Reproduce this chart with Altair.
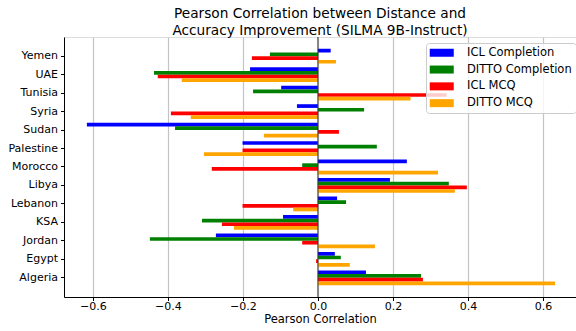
import altair as alt
import pandas as pd

countries = ["Yemen", "UAE", "Tunisia", "Syria", "Sudan", "Palestine", "Morocco",
             "Libya", "Lebanon", "KSA", "Jordan", "Egypt", "Algeria"]
series = ["ICL Completion", "DITTO Completion", "ICL MCQ", "DITTO MCQ"]
colors = ["#0000ff", "#008000", "#ff0000", "#ffa500"]

icl_completion = [0.034, -0.181, -0.098, -0.056, -0.616, -0.201, 0.237, 0.192, 0.051, -0.093, -0.272, 0.045, 0.128]
ditto_completion = [-0.128, -0.437, -0.173, 0.123, -0.381, 0.157, -0.042, 0.349, 0.075, -0.309, -0.448, 0.061, 0.275]
icl_mcq = [-0.176, -0.427, 0.343, -0.392, 0.056, -0.201, -0.283, 0.397, -0.201, -0.256, -0.042, -0.005, 0.280]
ditto_mcq = [0.048, -0.363, 0.247, -0.339, -0.144, -0.304, 0.320, 0.365, -0.066, -0.224, 0.152, 0.085, 0.632]

x_ticks = [-0.6, -0.4, -0.2, 0.0, 0.2, 0.4, 0.6]

rows = []
for s, vals in zip(series, [icl_completion, ditto_completion, icl_mcq, ditto_mcq]):
    for c, v in zip(countries, vals):
        rows.append({"Country": c, "Series": s, "Value": v})
df = pd.DataFrame(rows)

FONT = "DejaVu Sans"

x_scale = alt.Scale(domain=[-0.677, 0.688], nice=False, zero=False)

bars = alt.Chart(df).mark_bar(size=3.7).encode(
    x=alt.X("Value:Q", scale=x_scale,
            axis=alt.Axis(values=x_ticks, format=".1f", title="Pearson Correlation",
                          grid=True, gridColor="#c4c4c4", gridWidth=1.2,
                          domainColor="black", tickColor="black", tickSize=3.5,
                          labelFontSize=11, titleFontSize=11.5, labelColor="black",
                          titleColor="black", titleFontWeight="normal",
                          labelPadding=0, titlePadding=2, labelFont=FONT, titleFont=FONT)),
    x2=alt.datum(0),
    y=alt.Y("Country:N", sort=countries,
            scale=alt.Scale(paddingInner=0.2, paddingOuter=0.64),
            axis=alt.Axis(title=None, domainColor="black", tickColor="black", tickSize=3.5,
                          labelFontSize=11, labelColor="black", labelPadding=3, labelFont=FONT)),
    yOffset=alt.YOffset("Series:N", sort=series, scale=alt.Scale(paddingInner=0, paddingOuter=0)),
    color=alt.Color("Series:N", sort=series,
                    scale=alt.Scale(domain=series, range=colors),
                    legend=alt.Legend(title=None, orient="none", legendX=362, legendY=6,
                                      symbolType="M-1.5,-1H4.5V1H-1.5Z", symbolSize=64,
                                      symbolOpacity=1, symbolStrokeWidth=0,
                                      labelFontSize=11.5, labelFont=FONT, labelColor="black",
                                      strokeColor="#cccccc", fillColor="rgba(255,255,255,0.8)",
                                      padding=4, rowPadding=3.8, labelOffset=25.5,
                                      cornerRadius=3)),
)

zero = alt.Chart(pd.DataFrame({"z": [0.0]})).mark_rule(color="#333333", strokeWidth=1).encode(
    x=alt.X("z:Q", scale=x_scale)
)

chart = alt.layer(bars, zero).properties(
    width=512, height=260,
    title=alt.TitleParams(["Pearson Correlation between Distance and",
                           "Accuracy Improvement (SILMA 9B-Instruct)"],
                          fontSize=13.7, font=FONT, fontWeight="normal", color="black",
                          anchor="middle", offset=-1, lineHeight=16.5),
    autosize=alt.AutoSizeParams(type="none"),
    padding={"left": 64, "top": 37, "right": 0, "bottom": 34},
).configure_view(stroke="black", strokeWidth=1).configure(background="white")

chart.save("out.html", embed_options={"renderer": "svg", "actions": False})
